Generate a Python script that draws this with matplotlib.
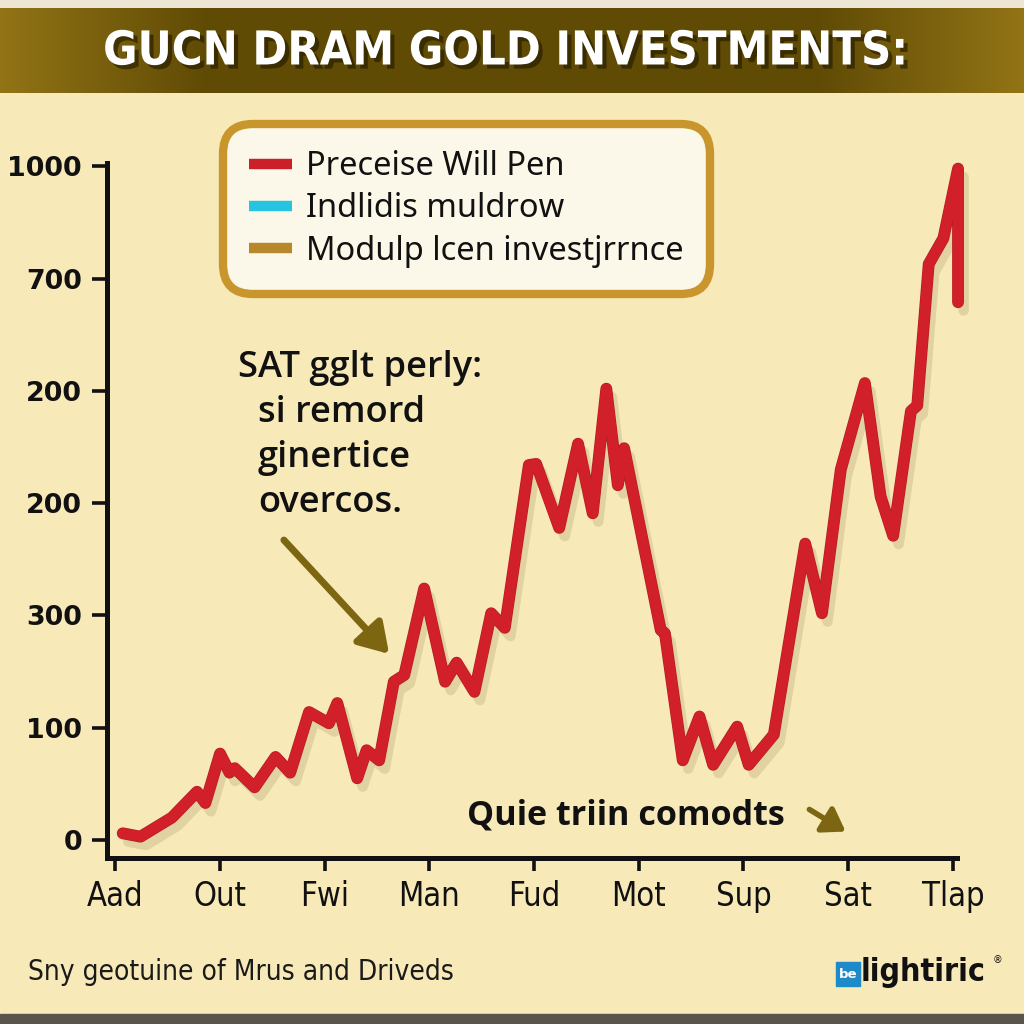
import matplotlib
matplotlib.use("Agg")
import matplotlib.pyplot as plt
import numpy as np
from matplotlib import patheffects as pe
from matplotlib import font_manager as fm
from matplotlib.font_manager import FontProperties
from matplotlib.lines import Line2D
from matplotlib.patches import FancyArrowPatch, Rectangle, FancyBboxPatch

# ---------------- data ----------------
title = "GUCN DRAM GOLD INVESTMENTS:"
x_labels = ["Aad", "Out", "Fwi", "Man", "Fud", "Mot", "Sup", "Sat", "Tlap"]
y_tick_pos = [0, 100, 200, 300, 400, 500, 600]
y_tick_labels = ["0", "100", "300", "200", "200", "700", "1000"]
legend_labels = ["Preceise Will Pen", "Indlidis muldrow", "Modulp lcen investjrrnce"]
legend_colors = ["#C9202A", "#26C4E0", "#B8892C"]

series_x = [0.07, 0.24, 0.54, 0.78, 0.86, 1.00, 1.09, 1.14, 1.33, 1.53, 1.67,
            1.85, 2.04, 2.12, 2.31, 2.40, 2.52, 2.66, 2.76, 2.95, 3.15, 3.26,
            3.43, 3.59, 3.72, 3.95, 4.02, 4.24, 4.42, 4.56, 4.69, 4.80, 4.86,
            5.21, 5.25, 5.42, 5.58, 5.71, 5.94, 6.05, 6.29, 6.59, 6.75, 6.93,
            7.16, 7.31, 7.43, 7.60, 7.66, 7.77, 7.91, 8.05, 8.05]
series_y = [6, 3, 20, 43, 33, 77, 60, 64, 47, 74, 60,
            114, 104, 122, 55, 80, 71, 141, 147, 224, 141, 158,
            132, 202, 189, 334, 335, 278, 353, 291, 402, 316, 349,
            187, 184, 71, 110, 67, 101, 67, 94, 264, 202, 330,
            407, 306, 271, 382, 387, 513, 536, 598, 479]

note_lines = ["SAT gglt perly:", "si remord", "ginertice", "overcos."]
note2 = "Quie triin comodts"
footer = "Sny geotuine of Mrus and Driveds"
logo_text = "lightiric"

# ---------------- fonts ----------------
def find_file(keys):
    files = [f.fname for f in fm.fontManager.ttflist]
    for k in keys:
        for fn in files:
            if fn.split("/")[-1].lower().startswith(k.lower()):
                return fn
    return None

def fprop(keys, family="DejaVu Sans", weight="normal"):
    fn = find_file(keys)
    if fn:
        return FontProperties(fname=fn)
    return FontProperties(family=family, weight=weight)

cond_bold = fprop(["LiberationSansNarrow-Bold.", "DejaVuSansCondensed-Bold.",
                   "RobotoCondensed-Bold", "Roboto_Condensed-Bold", "OpenSans_Condensed-Bold",
                   "OpenSansCondensed-Bold"], weight="bold")
cond_reg = fprop(["LiberationSansNarrow-Regular", "DejaVuSansCondensed.",
                  "RobotoCondensed-Regular", "Roboto_Condensed-Regular",
                  "OpenSans_Condensed-Regular", "OpenSansCondensed-Regular"])
sans_reg = FontProperties(family=["Noto Sans", "DejaVu Sans"])
sans_bold = fprop(["NotoSans-SemiBold.", "NotoSans-Bold.", "OpenSans-SemiBold.",
                   "OpenSans-Bold.", "Lato-Bold.", "Roboto-Bold.", "DejaVuSans-Bold."],
                  weight="bold")
sans_xbold = fprop(["NotoSans-Bold.", "OpenSans-Bold.", "Lato-Bold.", "Roboto-Bold.",
                    "DejaVuSans-Bold."], weight="bold")
ytick_fp = FontProperties(family="DejaVu Sans", weight="bold")

BG = "#F8E9B8"
W = H = 1024
fig = plt.figure(figsize=(10.24, 10.24), dpi=100, facecolor=BG)
renderer = fig.canvas.get_renderer()

def fx(px):
    return px / W
def fy(py):
    return 1 - py / H

def sized(fp, text, target_px, base=20.0):
    p = fp.copy()
    p.set_size(base)
    t = fig.text(0, 0, text, fontproperties=p)
    w = t.get_window_extent(renderer=renderer).width
    t.remove()
    q = fp.copy()
    q.set_size(base * target_px / w)
    return q

# ---------------- banner ----------------
ban = fig.add_axes([0, fy(93), 1, (93 - 8) / H])
grad = np.linspace(0, 1, 400)
prof = np.clip(np.minimum(grad, 1 - grad) / 0.2, 0, 1)
c_edge = np.array([0x92, 0x74, 0x16]) / 255
c_mid = np.array([0x60, 0x4B, 0x05]) / 255
img = c_edge[None, :] * (1 - prof[:, None]) + c_mid[None, :] * prof[:, None]
ban.imshow(img[None, :, :], aspect="auto", extent=[0, 1, 0, 1])
ban.set_axis_off()
fig.add_artist(Rectangle((0, fy(8)), 1, 8 / H, transform=fig.transFigure,
                         color="#EEE6D4", zorder=0))
fig.text(fx(506), fy(52), title, ha="center", va="center", color="white",
         fontproperties=sized(cond_bold, title, 803),
         path_effects=[pe.withSimplePatchShadow(offset=(3, -3), shadow_rgbFace="#2A2000", alpha=0.7)])

# bottom border
fig.add_artist(Rectangle((0, 0), 1, 10 / H, transform=fig.transFigure,
                         color="#5A554C", zorder=0))

# ---------------- main axes ----------------
ax = fig.add_axes([fx(107), fy(858), fx(957) - fx(107), (858 - 163) / H])
ax.set_facecolor("none")
ax.plot(series_x, series_y, color="#D2202A", lw=7.5, solid_joinstyle="round",
        solid_capstyle="round", zorder=5, clip_on=False,
        path_effects=[pe.SimpleLineShadow(offset=(4, -6), shadow_color="#6B5A2A", alpha=0.16),
                      pe.Stroke(linewidth=8.5, foreground="#B81A22"), pe.Normal()])
ax.set_xlim(-0.08, 8.04)
ax.set_ylim(-16, 603)
ax.set_xticks(range(len(x_labels)))
ax.set_xticklabels(x_labels, fontproperties=sized(cond_reg, "Man", 62), color="#111111")
ax.set_yticks(y_tick_pos)
ax.set_yticklabels(y_tick_labels, fontproperties=sized(ytick_fp, "1000", 75), color="#111111")
for s in ["top", "right"]:
    ax.spines[s].set_visible(False)
for s in ["left", "bottom"]:
    ax.spines[s].set_linewidth(3.6)
    ax.spines[s].set_color("#111111")
ax.tick_params(axis="y", length=11, width=2.6, pad=7, color="#111111")
ax.tick_params(axis="x", length=9, width=2.6, pad=7, color="#111111")

# legend
leg_fp = sized(sans_reg, legend_labels[2], 378)
handles = [Line2D([], [], color=c, lw=7.5, solid_capstyle="butt") for c in legend_colors]
leg = ax.legend(handles, legend_labels, loc="upper left",
                bbox_to_anchor=(fx(215), fy(116)), bbox_transform=fig.transFigure,
                prop=leg_fp, handlelength=1.3, handletextpad=0.45,
                labelspacing=0.28, borderpad=0.55, fancybox=True, framealpha=1,
                facecolor="#FBF7E9", edgecolor="#C8962C")
leg.get_frame().set_linewidth(6)
leg.get_frame().set_boxstyle("round,pad=0.25,rounding_size=0.9")
for t in leg.get_texts():
    t.set_color("#111111")

# annotation text
note_fp = sized(sans_bold, note_lines[0], 243)
fig.text(fx(238), fy(368), note_lines[0], ha="left", va="center",
         fontproperties=note_fp, color="#111111")
for i, ln in enumerate(note_lines[1:]):
    fig.text(fx(258), fy(413 + 45 * i), ln, ha="left", va="center",
             fontproperties=note_fp, color="#111111")

arrow_col = "#7D6612"
fig.add_artist(FancyArrowPatch((fx(282), fy(538)), (fx(391), fy(656)),
                               transform=fig.transFigure, arrowstyle="-|>,head_length=8,head_width=5",
                               mutation_scale=2.2, lw=5, color=arrow_col))
fig.text(fx(467), fy(815), note2, ha="left", va="center",
         fontproperties=sized(sans_xbold, note2, 318), color="#111111")
fig.add_artist(FancyArrowPatch((fx(807), fy(808)), (fx(848), fy(833)),
                               transform=fig.transFigure, arrowstyle="-|>,head_length=6,head_width=4",
                               mutation_scale=2.2, lw=4, color=arrow_col))

# footer
fig.text(fx(28), fy(972), footer, ha="left", va="center",
         fontproperties=sized(cond_reg, footer, 425), color="#1A1A1A")

# logo
fig.add_artist(FancyBboxPatch((fx(836), fy(986)), 24 / W, 24 / H, boxstyle="square,pad=0",
                              transform=fig.transFigure, color="#1D8AC9"))
fig.text(fx(848), fy(975), "be", ha="center", va="center", fontsize=9.5, color="white",
         fontweight="bold", family="DejaVu Sans")
fig.text(fx(861), fy(972), logo_text, ha="left", va="center",
         fontproperties=sized(cond_bold, logo_text, 126), color="#111111")
fig.text(fx(993), fy(960), "\u00ae", ha="left", va="center", fontsize=7, color="#111111")

fig.savefig("out.png", dpi=100, facecolor=BG)
